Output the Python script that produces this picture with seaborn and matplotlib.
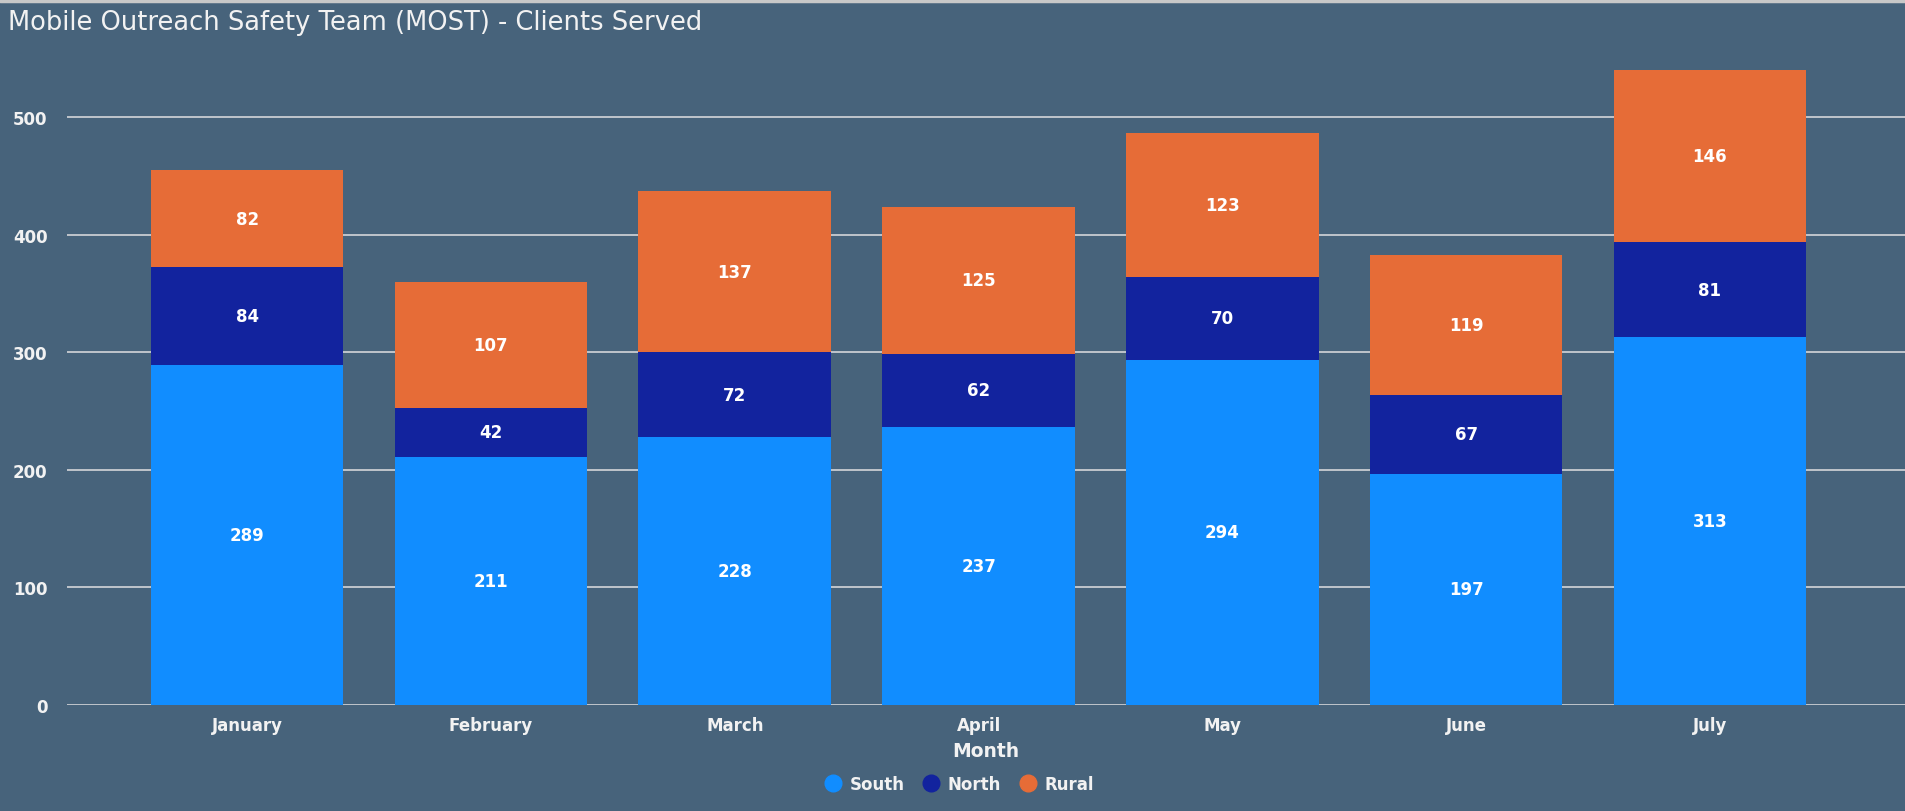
import matplotlib
matplotlib.use("Agg")
import matplotlib.pyplot as plt
from matplotlib.lines import Line2D
import seaborn as sns
import pandas as pd
import numpy as np

months = ["January", "February", "March", "April", "May", "June", "July"]
south = [289, 211, 228, 237, 294, 197, 313]
north = [84, 42, 72, 62, 70, 67, 81]
rural = [82, 107, 137, 125, 123, 119, 146]
series_names = ["South", "North", "Rural"]
colors = {"South": "#118DFF", "North": "#12239E", "Rural": "#E66C37"}
title = "Mobile Outreach Safety Team (MOST) - Clients Served"

BG = "#47637B"
TXT = "#F2F2F2"
GRID = "#C9CDD2"

sns.set_theme(style="white")
plt.rcParams["font.family"] = ["DejaVu Sans"]

fig = plt.figure(figsize=(19.05, 8.12), dpi=100, facecolor=BG)
W, H = 1905, 812
x0, x1 = 67, 1905
y0, y1 = 706, 55
ax = fig.add_axes([x0 / W, 1 - y0 / H, (x1 - x0) / W, (y0 - y1) / H])
ax.set_facecolor(BG)

df = pd.DataFrame({"Month": months, "South": south, "North": north, "Rural": rural})
df["SN"] = df["South"] + df["North"]
df["Total"] = df["SN"] + df["Rural"]

for col, name in [("Total", "Rural"), ("SN", "North"), ("South", "South")]:
    sns.barplot(data=df, x="Month", y=col, color=colors[name], width=0.79,
                saturation=1, ax=ax, zorder=3, linewidth=0)

# labels
for i in range(len(months)):
    bottoms = [0, south[i], south[i] + north[i]]
    vals = [south[i], north[i], rural[i]]
    for b, v in zip(bottoms, vals):
        ax.text(i, b + v / 2, str(v), ha="center", va="center", color="white",
                fontsize=12, fontweight="bold", zorder=5)

ax.set_xlim(-0.739, 6.80)
ax.set_ylim(0, 554)
ax.set_yticks([0, 100, 200, 300, 400, 500])
ax.yaxis.grid(True, color=GRID, linewidth=1.3, zorder=0)
ax.set_axisbelow(True)
for s in ax.spines.values():
    s.set_visible(False)
ax.tick_params(axis="both", length=0, colors=TXT, labelsize=12)
for lab in ax.get_xticklabels() + ax.get_yticklabels():
    lab.set_fontweight("bold")
    lab.set_color(TXT)
ax.tick_params(axis="y", pad=14)
ax.tick_params(axis="x", pad=8)
ax.set_ylabel("")
ax.set_xlabel("Month", color=TXT, fontsize=13.5, fontweight="bold", labelpad=5)

fig.text(8 / W, 1 - 23 / H, title, color=TXT, fontsize=18.5, ha="left", va="center")
fig.add_artist(Line2D([0, 1], [1 - 1.5 / H, 1 - 1.5 / H], color="#C8C8C8", linewidth=2.5,
                      transform=fig.transFigure))

handles = [Line2D([0], [0], marker="o", linestyle="", markersize=12,
                  markerfacecolor=colors[n], markeredgecolor=colors[n]) for n in series_names]
leg = fig.legend(handles, series_names, loc="center", bbox_to_anchor=(955 / W, 1 - 785 / H),
                 ncol=3, frameon=False, handletextpad=0.0, columnspacing=0.6,
                 prop={"size": 12, "weight": "bold"})
for t in leg.get_texts():
    t.set_color(TXT)

fig.savefig("out.png", dpi=100, facecolor=BG)
